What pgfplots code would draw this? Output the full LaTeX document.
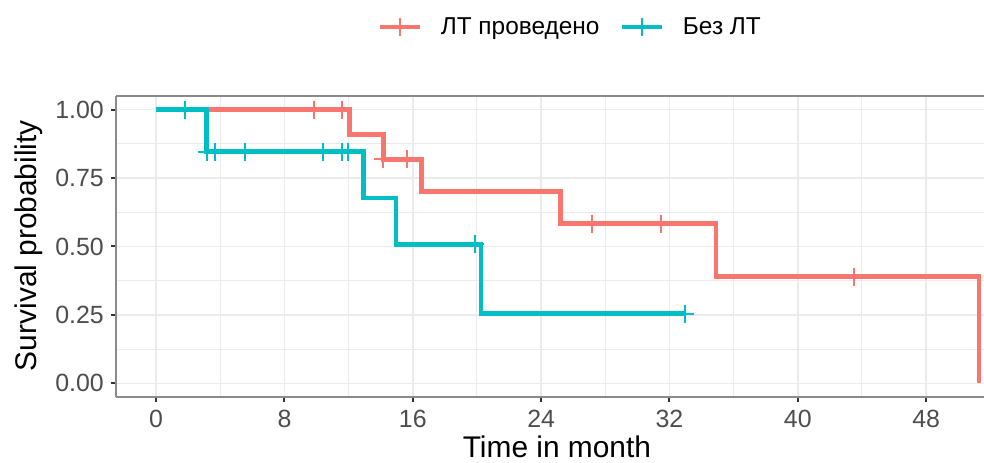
\documentclass[border=0pt]{standalone}
\usepackage{fontspec}
\setmainfont{Liberation Sans}
\usepackage{pgfplots}
\pgfplotsset{compat=1.18}

\definecolor{kmred}{HTML}{F8766D}
\definecolor{kmteal}{HTML}{00BFC4}
\definecolor{gridgray}{HTML}{EBEBEB}
\definecolor{framegray}{HTML}{8A8A8A}
\definecolor{tickgray}{HTML}{333333}
\definecolor{ticklab}{HTML}{4D4D4D}

\begin{document}
\begin{tikzpicture}[x=1bp,y=1bp]
\useasboundingbox (0,0) rectangle (984,463);
\begin{axis}[
  at={(116bp,66bp)}, anchor=south west,
  width=868bp, height=301bp, scale only axis,
  xmin=-2.5, xmax=51.61, ymin=-0.05, ymax=1.05,
  xtick={0,8,...,48},
  ytick={0,0.25,0.5,0.75,1},
  yticklabels={0.00,0.25,0.50,0.75,1.00},
  minor xtick={4,12,...,52},
  minor ytick={0.125,0.375,0.625,0.875},
  grid=both,
  major grid style={draw=gridgray, line width=1.6bp},
  minor grid style={draw=gridgray, line width=0.9bp},
  axis x line*=box, axis y line*=left,
  xtick pos=bottom,
  tick align=outside,
  major tick length=5bp, minor tick length=0pt,
  every tick/.style={tickgray, line width=2bp},
  axis line style={framegray, line width=2bp},
  /pgf/number format/assume math mode=true,
  tick label style={font=\fontsize{25}{28}\selectfont, text=ticklab},
  xticklabel style={inner sep=8bp},
  yticklabel style={inner sep=7bp},
  xlabel={Time in month},
  ylabel={Survival probability},
  label style={font=\fontsize{30}{34}\selectfont, inner sep=0pt},
  xlabel style={at={(axis description cs:0.508,-0.202)}, anchor=base},
  ylabel style={at={(axis description cs:-0.1164,0.503)}, anchor=north},
  legend style={at={(axis description cs:0.522,1.229)}, anchor=center,
    draw=none, fill=none, font=\fontsize{24.5}{28}\selectfont,
    nodes={inner sep=0pt},
    /tikz/every odd column/.append style={column sep=19bp},
    /tikz/every even column/.append style={column sep=20bp}},
  legend columns=2,
  legend cell align=left,
  legend image code/.code={
    \draw[#1, mark=none, line width=4.5bp] (0bp,0bp) -- (40bp,0bp);
    \draw[#1, mark=none, line width=2bp] (20bp,-9bp) -- (20bp,9bp);
  },
]
% Kaplan-Meier step curves
\addplot[kmred, line width=4.8bp, const plot] coordinates {
  (0,1) (12.05,0.909) (14.2,0.818) (16.55,0.701) (25.2,0.584) (34.9,0.390) (51.3,0)
};
\addlegendentry{ЛТ проведено}
\addplot[kmteal, line width=4.8bp, const plot] coordinates {
  (0,1) (3.15,0.846) (12.95,0.677) (14.95,0.508) (20.25,0.254) (33.0,0.254)
};
\addlegendentry{Без ЛТ}
% censoring marks
\addplot[kmred, only marks, mark=+, mark size=9bp, mark options={line width=2bp}, forget plot] coordinates {
  (9.87,1) (11.58,1) (14.17,0.818) (15.63,0.818) (27.2,0.584) (31.5,0.584) (43.5,0.390)
};
\addplot[kmteal, only marks, mark=+, mark size=9bp, mark options={line width=2bp}, forget plot] coordinates {
  (1.83,1) (3.18,0.846) (3.68,0.846) (5.55,0.846) (10.4,0.846) (11.6,0.846) (11.95,0.846) (19.85,0.508) (33.0,0.254)
};
\end{axis}
\end{tikzpicture}
\end{document}
